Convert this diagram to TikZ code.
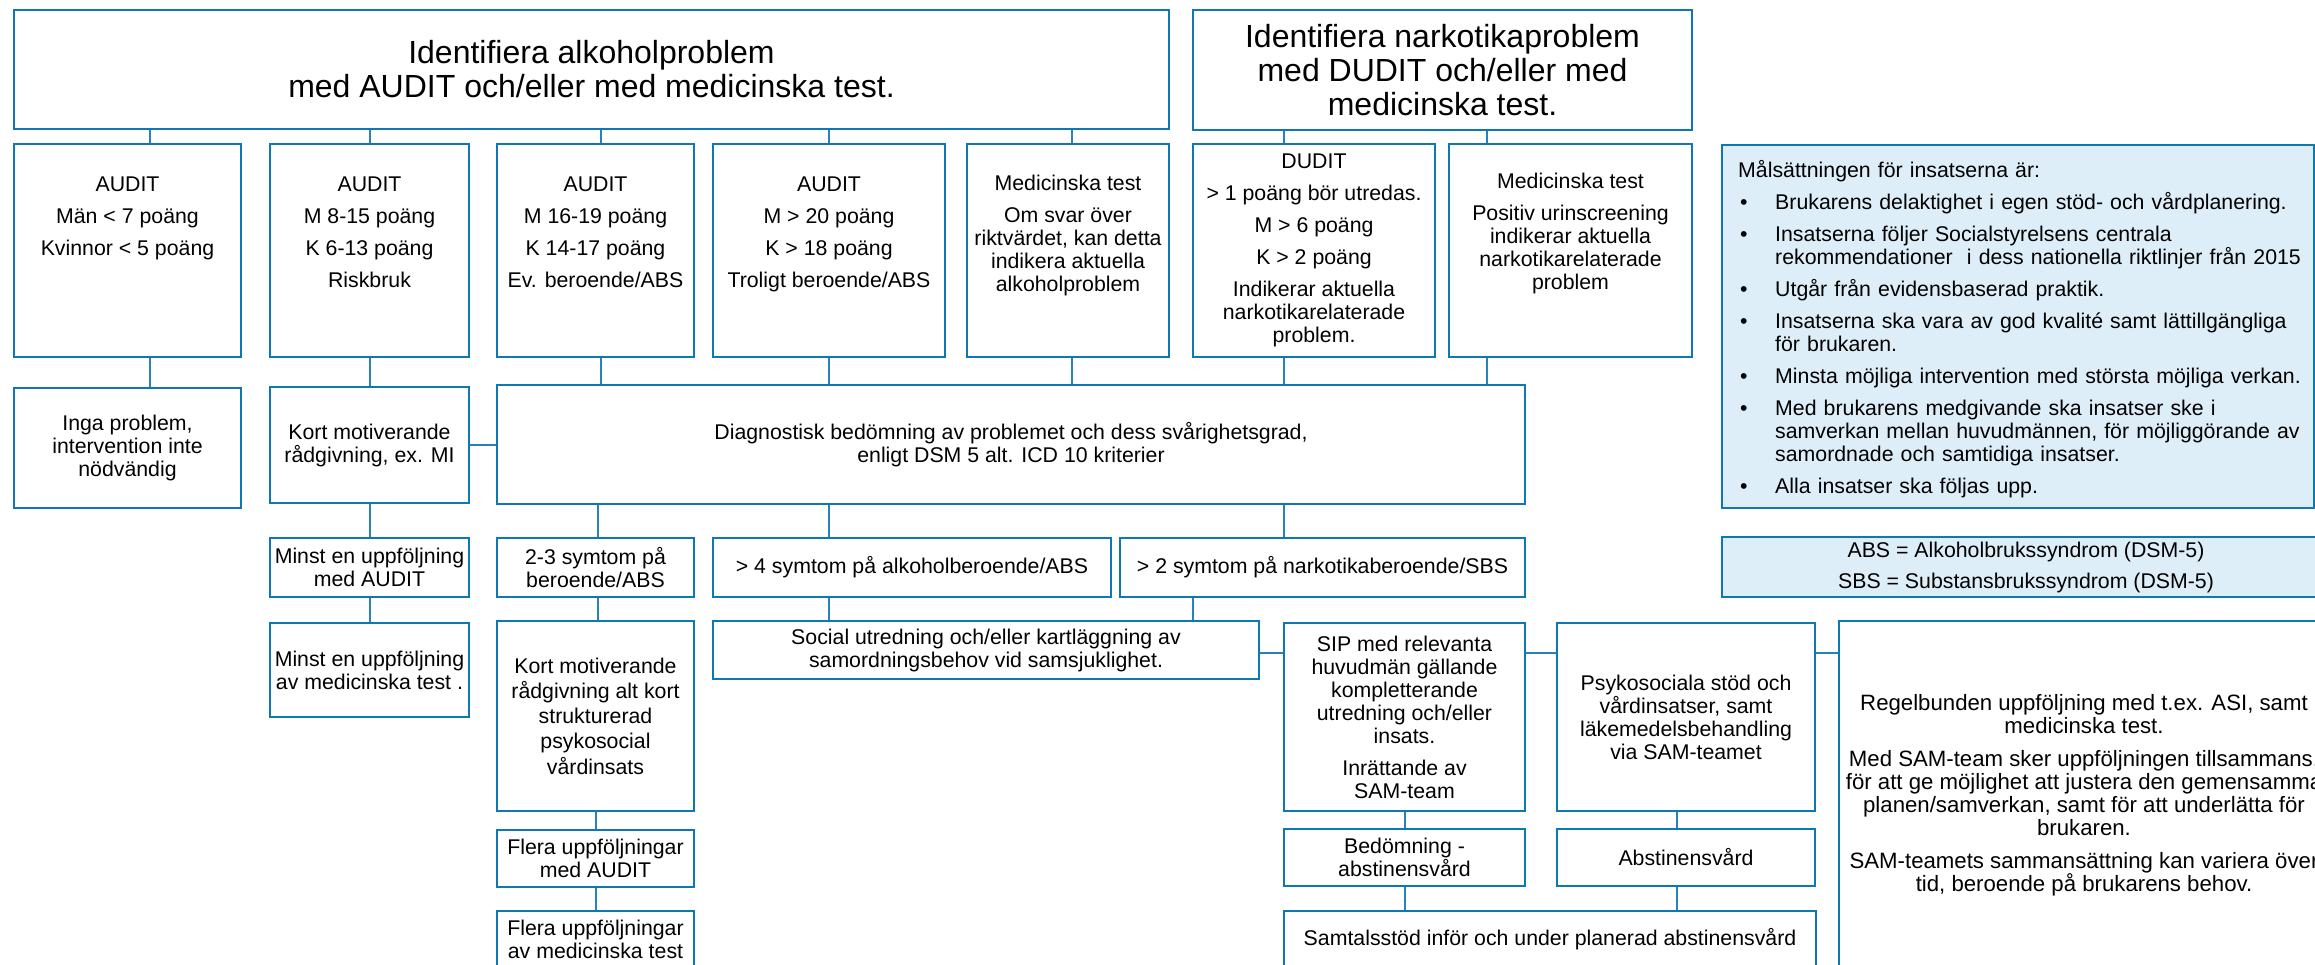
\documentclass[tikz,border=0pt]{standalone}
\usepackage{fontspec}
\setmainfont{Liberation Sans}
\usetikzlibrary{backgrounds}
\definecolor{bl}{RGB}{14,120,180}
\definecolor{cl}{RGB}{40,130,185}
\definecolor{pbg}{RGB}{221,238,248}
\newcommand\bodyfont{\fontsize{21.3}{23}\selectfont}
\newcommand\titlefont{\fontsize{32}{34}\selectfont}
\newcommand\itm{\noindent\hangindent=37pt\hangafter=1\makebox[37pt][l]{\hspace{2pt}•}}
\begin{document}
\begin{tikzpicture}[x=1pt,y=-1pt,
 box/.style={draw=bl,line width=2.8pt,fill=white,inner sep=2pt,align=center,font=\bodyfont,text=black},
 panelbox/.style={draw=bl,line width=1.5pt,fill=pbg,inner sep=2pt,align=center,font=\bodyfont},
 txt/.style={inner sep=0pt,align=center,font=\bodyfont},
 conn/.style={draw=cl,line width=1.5pt}]
\useasboundingbox (0,0) rectangle (2315,964);
\clip (0,0) rectangle (2315,964);

% coordinates for connector positions
\coordinate (c150) at (150,0);
\coordinate (c370) at (370,0);
\coordinate (c601) at (601,0);
\coordinate (c598) at (598,0);
\coordinate (c596) at (596,0);
\coordinate (c829) at (829,0);
\coordinate (c1072) at (1072,0);
\coordinate (c1193) at (1193,0);
\coordinate (c1284) at (1284,0);
\coordinate (c1487) at (1487,0);
\coordinate (c1405) at (1405,0);
\coordinate (c1677) at (1677,0);
\coordinate (y653) at (0,653);

% titles
\node[box,minimum width=1155,minimum height=119,font=\titlefont] (tA) at (591.5,69.5) {Identifiera alkoholproblem\\med AUDIT och/eller med medicinska test.};
\node[box,minimum width=499,minimum height=120,font=\titlefont] (tN) at (1442.5,70) {Identifiera narkotikaproblem\\med DUDIT och/eller med\\medicinska test.};

% row 2
\node[box,minimum width=227,minimum height=213] (a1) at (127.5,250.5) {};
\node[box,minimum width=199,minimum height=213] (a2) at (369.5,250.5) {};
\node[box,minimum width=197,minimum height=213] (a3) at (595.5,250.5) {};
\node[box,minimum width=232,minimum height=213] (a4) at (829,250.5) {};
\node[box,minimum width=202,minimum height=213] (a5) at (1068,250.5) {};
\node[box,minimum width=242,minimum height=213] (n1) at (1314,250.5) {DUDIT\\[9pt]> 1 poäng bör utredas.\\[9pt]M > 6 poäng\\[9pt]K > 2 poäng\\[9pt]Indikerar aktuella\\narkotikarelaterade\\problem.};
\node[box,minimum width=243,minimum height=213] (n2) at (1570.5,250.5) {};

\node[txt,anchor=north] (a1t) at ([yshift=-34pt]a1.north) {AUDIT\\[9pt]Män < 7 poäng\\[9pt]Kvinnor < 5 poäng};
\node[txt,anchor=north] (a2t) at ([yshift=-34pt]a2.north) {AUDIT\\[9pt]M 8-15 poäng\\[9pt]K 6-13 poäng\\[9pt]Riskbruk};
\node[txt,anchor=north] (a3t) at ([yshift=-34pt]a3.north) {AUDIT\\[9pt]M 16-19 poäng\\[9pt]K 14-17 poäng\\[9pt]Ev. beroende/ABS};
\node[txt,anchor=north] (a4t) at ([yshift=-34pt]a4.north) {AUDIT\\[9pt]M > 20 poäng\\[9pt]K > 18 poäng\\[9pt]Troligt beroende/ABS};
\node[txt,anchor=north] (a5t) at ([yshift=-32pt]a5.north) {Medicinska test\\[9pt]Om svar över\\riktvärdet, kan detta\\indikera aktuella\\alkoholproblem};
\node[txt,anchor=north] (n2t) at ([yshift=-30pt]n2.north) {Medicinska test\\[9pt]Positiv urinscreening\\indikerar aktuella\\narkotikarelaterade\\problem};

% right panel
\node[panelbox,minimum width=592,minimum height=363] (goal) at (2018,326.5) {};
\node[anchor=north west,inner sep=0pt,text width=576pt,font=\bodyfont,align=left] (goalt) at (1738,160) {%
\setlength\parskip{9pt}%
Målsättningen för insatserna är:\par
\itm Brukarens delaktighet i egen stöd- och vårdplanering.\par
\itm Insatserna följer Socialstyrelsens centrala\newline rekommendationer\ \ i dess nationella riktlinjer från 2015\par
\itm Utgår från evidensbaserad praktik.\par
\itm Insatserna ska vara av god kvalité samt lättillgängliga\newline för brukaren.\par
\itm Minsta möjliga intervention med största möjliga verkan.\par
\itm Med brukarens medgivande ska insatser ske i\newline samverkan mellan huvudmännen, för möjliggörande av\newline samordnade och samtidiga insatser.\par
\itm Alla insatser ska följas upp.\par};
\node[panelbox,minimum width=608,minimum height=60] (absb) at (2026,567) {ABS = Alkoholbrukssyndrom (DSM-5)\\[8pt]SBS = Substansbrukssyndrom (DSM-5)};

% row 3
\node[box,minimum width=227,minimum height=120] (r1) at (127.5,448) {Inga problem,\\intervention inte\\nödvändig};
\node[box,minimum width=199,minimum height=116] (r2) at (369.5,445) {Kort motiverande\\rådgivning, ex. MI};
\node[box,minimum width=1028,minimum height=119] (diag) at (1011,444.5) {Diagnostisk bedömning av problemet och dess svårighetsgrad,\\enligt DSM 5 alt. ICD 10 kriterier};

% row 4
\node[box,minimum width=199,minimum height=59] (m1) at (369.5,567.5) {Minst en uppföljning\\med AUDIT};
\node[box,minimum width=197,minimum height=59] (s23) at (595.5,567.5) {2-3 symtom på\\beroende/ABS};
\node[box,minimum width=398,minimum height=59] (s4) at (912,567.5) {> 4 symtom på alkoholberoende/ABS};
\node[box,minimum width=405,minimum height=59] (s2) at (1322.5,567.5) {> 2 symtom på narkotikaberoende/SBS};

% row 5
\node[box,minimum width=199,minimum height=94] (m2) at (369.5,670) {Minst en uppföljning\\av medicinska test .};
\node[box,minimum width=197,minimum height=190,font=\fontsize{21.3}{25.3}\selectfont] (kort2) at (595.5,716) {Kort motiverande\\rådgivning alt kort\\strukturerad\\psykosocial\\vårdinsats};
\node[box,minimum width=546,minimum height=58] (soc) at (986,650) {Social utredning och/eller kartläggning av\\samordningsbehov vid samsjuklighet.};
\node[box,minimum width=241,minimum height=188] (sip) at (1404.5,717) {SIP med relevanta\\huvudmän gällande\\kompletterande\\utredning och/eller\\insats.\\[9pt]Inrättande av\\SAM-team};
\node[box,minimum width=258,minimum height=188] (psy) at (1686,717) {Psykosociala stöd och\\vårdinsatser, samt\\läkemedelsbehandling\\via SAM-teamet};
\node[box,minimum width=490,minimum height=348,font=\fontsize{22.2}{23}\selectfont] (reg) at (2084,795) {Regelbunden uppföljning med t.ex. ASI, samt\\medicinska test.\\[10pt]Med SAM-team sker uppföljningen tillsammans,\\för att ge möjlighet att justera den gemensamma\\planen/samverkan, samt för att underlätta för\\brukaren.\\[10pt]SAM-teamets sammansättning kan variera över\\tid, beroende på brukarens behov.};

% row 6
\node[box,minimum width=197,minimum height=57] (fa) at (595.5,858.5) {Flera uppföljningar\\med AUDIT};
\node[box,minimum width=241,minimum height=57] (bed) at (1404.5,857.5) {Bedömning -\\abstinensvård};
\node[box,minimum width=258,minimum height=57] (abst) at (1686,857.5) {Abstinensvård};

% row 7
\node[box,minimum width=197,minimum height=56] (fm) at (595.5,939) {Flera uppföljningar\\av medicinska test};
\node[box,minimum width=532,minimum height=56] (samt) at (1550,939) {Samtalsstöd inför och under planerad abstinensvård};

% connectors
\begin{scope}[on background layer]
\draw[conn] (tA.south -| c150) -- (a1.north -| c150);
\draw[conn] (tA.south -| c370) -- (a2.north -| c370);
\draw[conn] (tA.south -| c601) -- (a3.north -| c601);
\draw[conn] (tA.south -| c829) -- (a4.north -| c829);
\draw[conn] (tA.south -| c1072) -- (a5.north -| c1072);
\draw[conn] (tN.south -| c1284) -- (n1.north -| c1284);
\draw[conn] (tN.south -| c1487) -- (n2.north -| c1487);
\draw[conn] (a1.south -| c150) -- (r1.north -| c150);
\draw[conn] (a2.south -| c370) -- (r2.north -| c370);
\draw[conn] (a3.south -| c601) -- (diag.north -| c601);
\draw[conn] (a4.south -| c829) -- (diag.north -| c829);
\draw[conn] (a5.south -| c1072) -- (diag.north -| c1072);
\draw[conn] (n1.south -| c1284) -- (diag.north -| c1284);
\draw[conn] (n2.south -| c1487) -- (diag.north -| c1487);
\draw[conn] (r2.east) -- (r2.east -| diag.west);
\draw[conn] (r2.south -| c370) -- (m1.north -| c370);
\draw[conn] (diag.south -| c598) -- (s23.north -| c598);
\draw[conn] (diag.south -| c829) -- (s4.north -| c829);
\draw[conn] (diag.south -| c1284) -- (s2.north -| c1284);
\draw[conn] (m1.south -| c370) -- (m2.north -| c370);
\draw[conn] (s23.south -| c598) -- (kort2.north -| c598);
\draw[conn] (s4.south -| c829) -- (soc.north -| c829);
\draw[conn] (s2.south -| c1193) -- (soc.north -| c1193);
\draw[conn] (soc.east |- y653) -- (sip.west |- y653);
\draw[conn] (sip.east |- y653) -- (psy.west |- y653);
\draw[conn] (psy.east |- y653) -- (reg.west |- y653);
\draw[conn] (kort2.south -| c596) -- (fa.north -| c596);
\draw[conn] (fa.south -| c596) -- (fm.north -| c596);
\draw[conn] (sip.south -| c1405) -- (bed.north -| c1405);
\draw[conn] (psy.south -| c1677) -- (abst.north -| c1677);
\draw[conn] (bed.south -| c1405) -- (samt.north -| c1405);
\draw[conn] (abst.south -| c1677) -- (samt.north -| c1677);
\end{scope}
\end{tikzpicture}
\end{document}
